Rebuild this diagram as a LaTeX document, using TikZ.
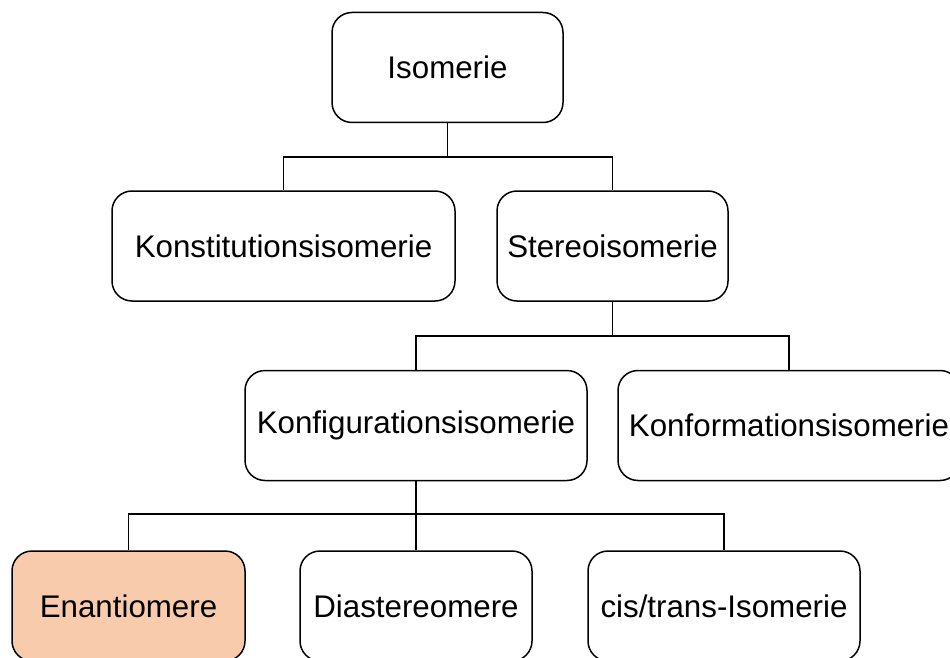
\documentclass[tikz,border=0pt]{standalone}
\usepackage{fontspec}
\setmainfont{Liberation Sans}
\usepackage{xcolor}
\definecolor{Peach}{HTML}{F8CBAD}
\colorlet{cFill}{Peach}
\usepackage{tikz}
\usetikzlibrary{calc, positioning}
\tikzset{
	font = \fontsize{31.3}{36}\selectfont,
	box/.style={
		draw,
		rectangle,
		line width=1.5pt,
		rounded corners=20pt,
		inner sep=0pt,
		minimum height=110pt
	},
	link/.style={
		line width=1.5pt
	}
}

\begin{document}
\begin{tikzpicture}[x=1pt, y=-1pt]
		\clip (0,0) rectangle (950,658);

		\node[box, minimum width=231pt] at (447.5,67.5) (iso) {Isomerie};

		\node[box, minimum width=343pt] at (283.5,246) (konst) {Konstitutionsisomerie};
		\node[box, minimum width=231pt] at (612.5,246) (stereo) {Stereoisomerie};

		\node[box, minimum width=342pt] at (416,425.5) (konfig) {Konfigurationsisomerie};
		\node[box, minimum width=342pt] at (789,425.5) (konform) {Konformationsisomerie};

		\node[box, fill=cFill, minimum width=233pt] at (128.5,606) (enant) {Enantiomere};
		\node[box, minimum width=232pt] at (416,606) (dia) {Diastereomere};
		\node[box, minimum width=272pt] at (724,606) (cistrans) {cis/trans-Isomerie};

		\coordinate (j1) at (447.5,157);
		\coordinate (j2) at (612.5,336);
		\coordinate (j3) at (416,514);

		\draw[link] (iso.south) -- (j1);
		\draw[link] (konst.north) |- (j1);
		\draw[link] (stereo.north) |- (j1);

		\draw[link] (stereo.south) -- (j2);
		\draw[link] (konfig.north) |- (j2);
		\draw[link] (konform.north) |- (j2);

		\draw[link] (konfig.south) -- (j3);
		\draw[link] (enant.north) |- (j3);
		\draw[link] (dia.north) -- (j3);
		\draw[link] (cistrans.north) |- (j3);
	\end{tikzpicture}
\end{document}
